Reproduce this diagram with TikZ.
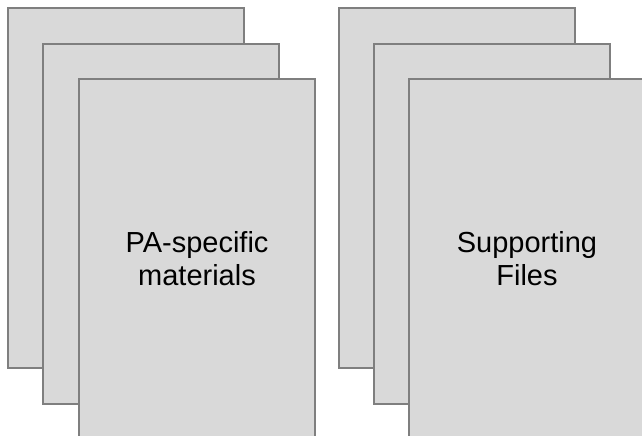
\documentclass[tikz,border=0pt]{standalone}
\usepackage{fontspec}
\setmainfont{Liberation Sans}

\tikzset{
    page/.style={draw=pagegray, fill=pagefill, line width=1.5pt, outer sep=0pt,
        inner sep=0pt, minimum width=236pt, minimum height=360pt, anchor=north west,
        align=center, font=\fontsize{29}{33}\selectfont}
}
\definecolor{pagegray}{HTML}{7F7F7F}
\definecolor{pagefill}{HTML}{D9D9D9}

\begin{document}
\begin{tikzpicture}[x=1pt,y=-1pt]
    \clip (0,0) rectangle (642,436);
    % left stack
    \node[page] (pa1) at (8,8) {};
    \node[page] (pa2) at (43,44) {};
    \node[page] (pa3) at (79,79) {PA-specific\\materials};
    % right stack
    \node[page] (sf1) at (339,8) {};
    \node[page] (sf2) at (374,44) {};
    \node[page] (sf3) at (409,79) {Supporting\\Files};
\end{tikzpicture}
\end{document}
